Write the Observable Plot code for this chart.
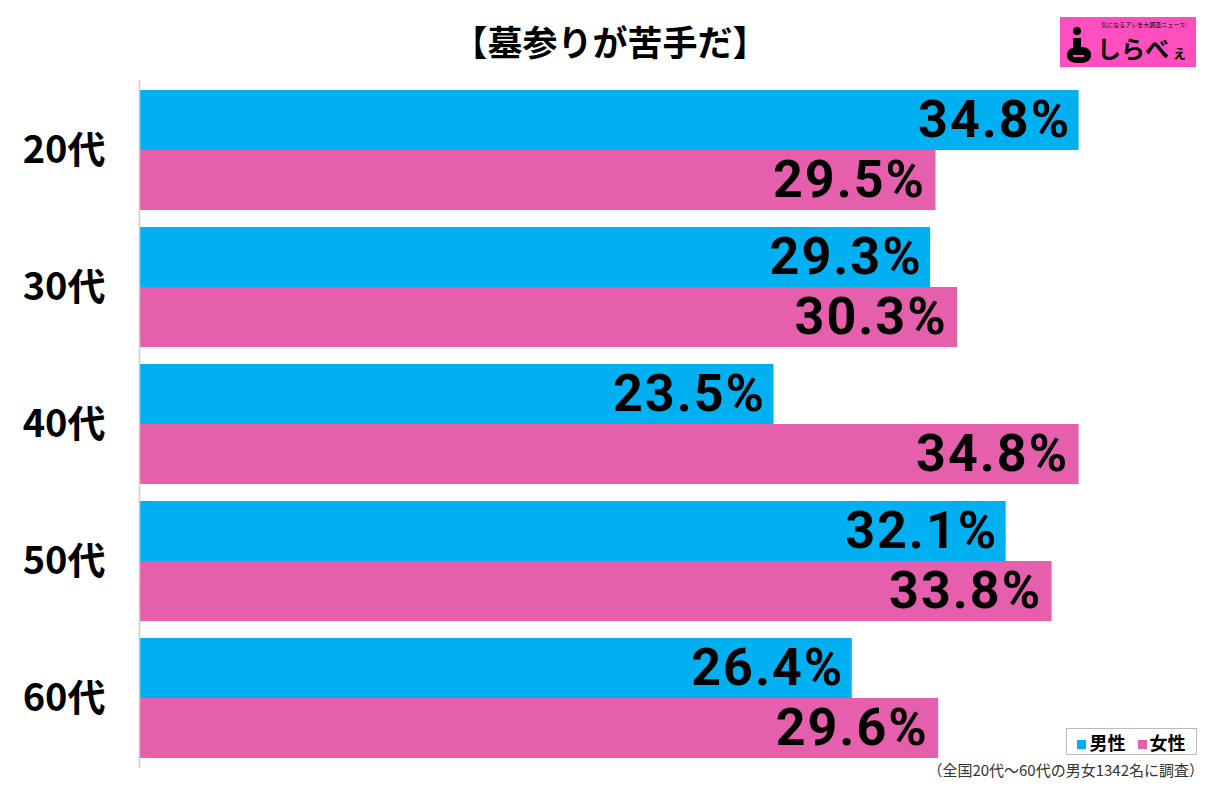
<!DOCTYPE html>
<html><head><meta charset="utf-8">
<script src="https://cdn.jsdelivr.net/npm/d3@7"></script>
<script src="https://cdn.jsdelivr.net/npm/@observablehq/plot@0.6"></script>
<style>
body{margin:0;background:#fff;font-family:"Noto Sans CJK JP","Noto Sans",sans-serif;}
#wrap{position:relative;width:1220px;height:789px;overflow:hidden;}
#chart{position:absolute;left:0;top:0;}
#title{position:absolute;left:0;width:1220px;top:18px;text-align:center;font-size:35px;font-weight:700;line-height:46px;color:#000;}
#logo{position:absolute;left:1060px;top:17px;width:136px;height:50px;background:#ff4fbf;}
#logo svg{overflow:visible;}
#legend{position:absolute;left:1066px;top:728px;width:129px;height:25px;border:1.5px solid #bbb;background:#fff;display:flex;align-items:center;justify-content:center;font-size:18px;font-weight:700;gap:4px;}
#legend .sw{display:inline-block;width:9px;height:9px;margin-right:3px;vertical-align:middle;}
#caption{position:absolute;right:16px;top:759px;font-size:15px;color:#333;line-height:22px;}
</style></head>
<body><div id="wrap">
<div id="chart"></div>
<div id="title">【墓参りが苦手だ】</div>
<div id="logo">
<svg width="136" height="50" viewBox="0 0 136 50">
  <circle cx="17" cy="14" r="4" fill="#000"/>
  <path d="M13 21 L21 21 L21 30 Q31 30 31 38 Q31 46 19 46 Q7 46 7 38 Q7 32 13 31 Z" fill="#000"/>
  <rect x="13" y="38" width="11" height="2" fill="#ff4fbf"/>
  <text x="84" y="10" font-size="6" text-anchor="middle" font-family="Noto Sans CJK JP" fill="#000">気になるアレを大調査ニュース!</text>
  <text x="37" y="41" font-size="24" font-weight="700" font-family="Noto Sans CJK JP" fill="#000">しらべ</text>
  <text x="112" y="41" font-size="15" font-weight="700" font-family="Noto Sans CJK JP" fill="#000">ぇ</text>
</svg>
</div>
<div id="legend"><span><span class="sw" style="background:#00b0f0"></span>男性</span>&nbsp;<span><span class="sw" style="background:#e65fac"></span>女性</span></div>
<div id="caption">（全国20代～60代の男女1342名に調査）</div>
</div>
<script>
const ages = ["20代","30代","40代","50代","60代"];
const male = [34.8, 29.3, 23.5, 32.1, 26.4];
const female = [29.5, 30.3, 34.8, 33.8, 29.6];
const blue = "#00b0f0", pink = "#e65fac";

const maleData = ages.map((a,i)=>({age:a, v:male[i]}));
const femaleData = ages.map((a,i)=>({age:a, v:female[i]}));
const half = 60;
const fmt = d => d.v.toFixed(1) + "%";
const valueFont = 'Roboto, "Liberation Sans", sans-serif';

const chart = Plot.plot({
  width: 1220,
  height: 789,
  marginTop: 80,
  marginBottom: 21,
  marginLeft: 139,
  marginRight: 1,
  style: {fontFamily: '"Noto Sans CJK JP", sans-serif', background: "transparent"},
  x: {domain: [0, 40], axis: null},
  y: {domain: ages, paddingInner: 0.127, paddingOuter: 0.0635, label: null},
  marks: [
    Plot.barX(maleData, {x: "v", y: "age", fill: blue, insetBottom: half}),
    Plot.barX(femaleData, {x: "v", y: "age", fill: pink, insetTop: half}),
    Plot.ruleX([0], {stroke: "#cccccc", strokeWidth: 1.5}),
    Plot.axisY({tickSize: 0, tickPadding: 34, fontSize: 38, fontWeight: 700, label: null}),
    Plot.text(maleData, {x: "v", y: "age", text: fmt, dy: -30, dx: -8, textAnchor: "end", fontSize: 52, fontWeight: 700, fontFamily: valueFont, fill: "#000"}),
    Plot.text(femaleData, {x: "v", y: "age", text: fmt, dy: 30, dx: -10, textAnchor: "end", fontSize: 52, fontWeight: 700, fontFamily: valueFont, fill: "#000"})
  ]
});
chart.querySelectorAll("text").forEach(t => { if (/%/.test(t.textContent)) t.style.letterSpacing = "2px"; });
document.getElementById("chart").appendChild(chart);
</script>
</body></html>
